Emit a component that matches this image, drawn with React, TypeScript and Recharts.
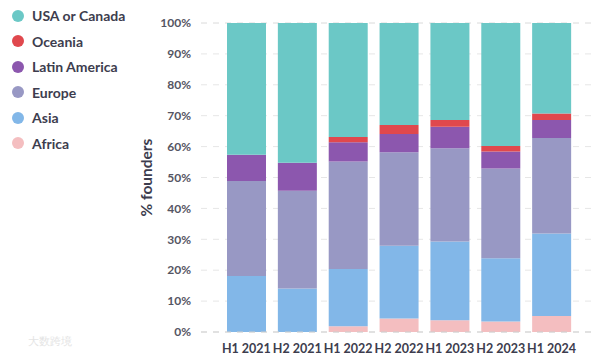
import React from 'react';
import { BarChart, Bar, XAxis, YAxis, CartesianGrid } from 'recharts';

const periods = ['H1 2021', 'H2 2021', 'H1 2022', 'H2 2022', 'H1 2023', 'H2 2023', 'H1 2024'];

// stacked bottom -> top
const africa = [0, 0, 1.9, 4.4, 3.8, 3.4, 5.2];
const asia = [18.1, 14.1, 18.5, 23.5, 25.5, 20.5, 26.7];
const europe = [30.8, 31.6, 34.8, 30.3, 30.2, 29.0, 30.9];
const latinAmerica = [8.5, 9.1, 6.2, 5.9, 6.9, 5.5, 5.8];
const oceania = [0, 0, 1.7, 2.9, 2.2, 1.8, 2.1];
const usaCanada = [42.6, 45.2, 36.9, 33.0, 31.4, 39.8, 29.3];

const yTicks = [0, 10, 20, 30, 40, 50, 60, 70, 80, 90, 100];

const series = [
    { key: 'africa', name: 'Africa', color: '#F4BEC0', values: africa },
    { key: 'asia', name: 'Asia', color: '#82B7E8', values: asia },
    { key: 'europe', name: 'Europe', color: '#9898C4', values: europe },
    { key: 'latam', name: 'Latin America', color: '#8C57AE', values: latinAmerica },
    { key: 'oceania', name: 'Oceania', color: '#E0484D', values: oceania },
    { key: 'usa', name: 'USA or Canada', color: '#6BC8C6', values: usaCanada },
];

const data = periods.map((p, i) => {
    const row: Record<string, string | number> = { period: p };
    series.forEach((s) => {
        row[s.key] = s.values[i];
    });
    return row;
});

const font = 'Lato, "Open Sans", sans-serif';

export default function App() {
    return (
        <div style={{ position: 'absolute', left: 0, top: 0, width: 600, height: 357, background: '#fff', fontFamily: font }}>
            <div style={{ position: 'absolute', left: 12, top: 3 }}>
                {[...series].reverse().map((s) => (
                    <div key={s.key} style={{ display: 'flex', alignItems: 'center', height: 25.5 }}>
                        <span
                            style={{
                                width: 12,
                                height: 12,
                                borderRadius: '50%',
                                background: s.color,
                                display: 'inline-block',
                                marginRight: 8,
                            }}
                        />
                        <span style={{ fontSize: 14, fontWeight: 700, color: '#3d3d4e' }}>{s.name}</span>
                    </div>
                ))}
            </div>
            <div style={{ position: 'absolute', left: 28, top: 334, fontSize: 11, color: '#e4e4e4' }}>大数跨境</div>
            <BarChart
                width={600}
                height={357}
                data={data}
                margin={{ top: 23, right: 3, bottom: 0, left: 0 }}
                barSize={39}
                style={{ position: 'absolute', left: 0, top: 0 }}
            >
                <CartesianGrid vertical={false} stroke="#e6e6e6" strokeDasharray="6 6" />
                <XAxis
                    dataKey="period"
                    height={25}
                    padding={{ left: 20, right: 20 }}
                    tickLine={false}
                    axisLine={{ stroke: '#cfcfcf', strokeDasharray: '6 6' }}
                    tickMargin={6}
                    tick={{ fontSize: 12.5, fontWeight: 700, fill: '#3d3d4e', fontFamily: font }}
                    interval={0}
                />
                <YAxis
                    width={201}
                    domain={[0, 100]}
                    ticks={yTicks}
                    tickFormatter={(v) => `${v}%`}
                    axisLine={false}
                    tickLine={false}
                    tickSize={0}
                    tickMargin={10}
                    tick={{ fontSize: 12, fontWeight: 700, fill: '#555563', fontFamily: font }}
                    label={{
                        value: '% founders',
                        angle: -90,
                        position: 'insideLeft',
                        offset: 146,
                        style: { fontSize: 15.5, fontWeight: 700, fill: '#3d3d4e', fontFamily: font, textAnchor: 'middle' },
                    }}
                />
                {series.map((s) => (
                    <Bar key={s.key} dataKey={s.key} name={s.name} stackId="a" fill={s.color} isAnimationActive={false} />
                ))}
            </BarChart>
        </div>
    );
}
